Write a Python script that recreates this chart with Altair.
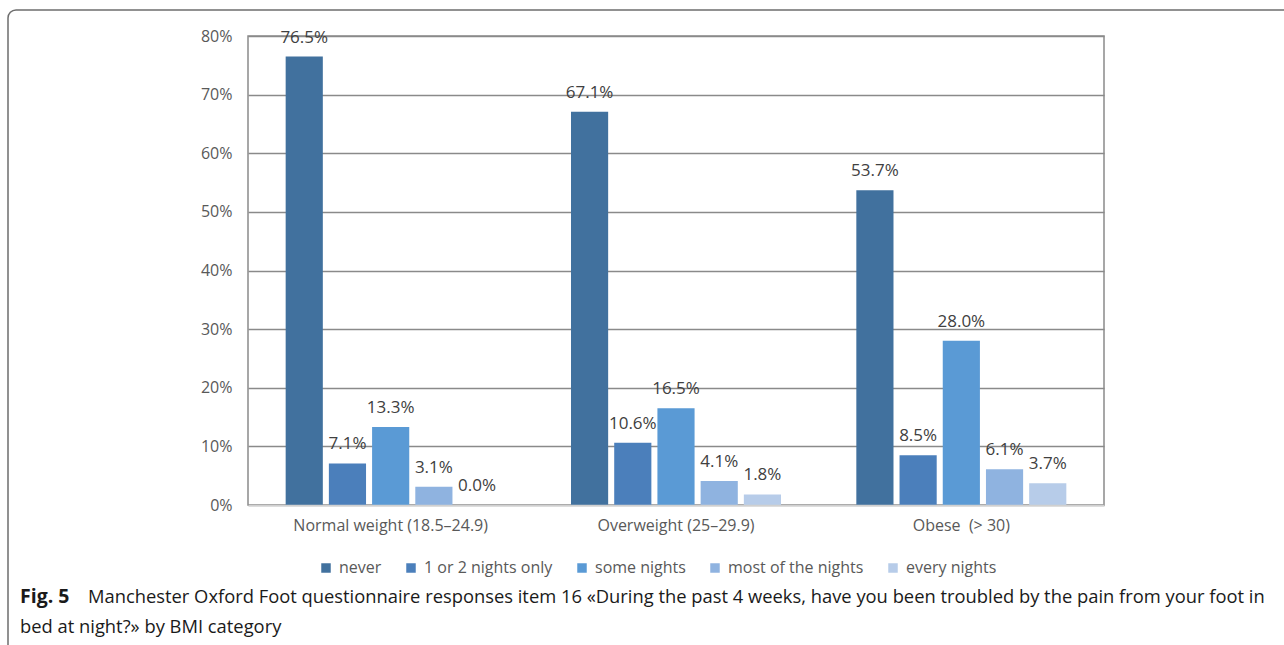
import altair as alt
import pandas as pd

# BMI groups and night-pain response categories
groups = ["Normal weight (18.5–24.9)", "Overweight (25–29.9)", "Obese \u00a0(> 30)"]
responses = ["never", "1 or 2 nights only", "some nights", "most of the nights", "every nights"]

# Percentage of respondents per response, one list per BMI group
normal_pct = [76.5, 7.1, 13.3, 3.1, 0.0]
overweight_pct = [67.1, 10.6, 16.5, 4.1, 1.8]
obese_pct = [53.7, 8.5, 28.0, 6.1, 3.7]

colors = ["#41719E", "#4B7FBB", "#5A9AD5", "#8FB3E0", "#B7CCE9"]

rows = []
for g, vals in zip(groups, [normal_pct, overweight_pct, obese_pct]):
    for r, v in zip(responses, vals):
        rows.append({"group": g, "response": r, "pct": v})
df = pd.DataFrame(rows)

FONT = "Open Sans"
GREY = "#595959"

x_enc = alt.X(
    "group:N",
    sort=groups,
    scale=alt.Scale(paddingInner=0.264, paddingOuter=0.132),
    axis=alt.Axis(
        title=None,
        labelAngle=0,
        labelFont=FONT,
        labelFontSize=16,
        labelColor=GREY,
        labelPadding=12,
        labelLimit=0,
        ticks=False,
        domain=True,
        domainColor="#d0d0d0",
        domainWidth=1.5,
        zindex=1,
    ),
)
xoff_enc = alt.XOffset("response:N", sort=responses, scale=alt.Scale(paddingInner=0.14, paddingOuter=0))
y_enc = alt.Y(
    "pct:Q",
    scale=alt.Scale(domain=[0, 80], nice=False),
    axis=alt.Axis(
        title=None,
        values=[0, 10, 20, 30, 40, 50, 60, 70, 80],
        labelExpr="datum.value + '%'",
        labelFont=FONT,
        labelFontSize=16,
        labelColor=GREY,
        labelPadding=16,
        ticks=False,
        domain=False,
        grid=True,
        gridColor="#8a8a8a",
        gridWidth=1.5,
    ),
)

base = alt.Chart(df)

bars = base.mark_bar().encode(
    x=x_enc,
    xOffset=xoff_enc,
    y=y_enc,
    color=alt.Color(
        "response:N",
        sort=responses,
        scale=alt.Scale(domain=responses, range=colors),
        legend=alt.Legend(
            title=None,
            orient="none",
            direction="horizontal",
            legendX=70,
            legendY=524,
            symbolType="square",
            symbolSize=90,
            symbolStrokeWidth=0,
            labelFont=FONT,
            labelFontSize=16,
            labelColor=GREY,
            columnPadding=21,
            labelOffset=5,
        ),
    ),
)

labels = base.mark_text(
    font=FONT, fontSize=17, color="#404040", baseline="middle", dy=-19
).transform_calculate(
    label="format(datum.pct, '.1f') + '%'"
).encode(
    x=alt.X("group:N", sort=groups),
    xOffset=alt.XOffset("response:N", sort=responses),
    y=alt.Y("pct:Q"),
    text="label:N",
)

# Figure frame around plot, legend and caption
frame = alt.Chart(pd.DataFrame({"k": [0]})).mark_rect(
    fill=None, stroke="#6e6e6e", strokeWidth=1.5, cornerRadius=8, clip=False
).encode(
    x=alt.value(-240), x2=alt.value(1080), y=alt.value(-26), y2=alt.value(700)
)

caption_bold = alt.Chart(pd.DataFrame({"t": ["Fig. 5"]})).mark_text(
    font=FONT, fontSize=19.5, fontWeight="bold", color="#1a1a1a", align="left", baseline="middle"
).encode(x=alt.value(-228), y=alt.value(561), text="t:N")

caption_lines = alt.Chart(
    pd.DataFrame(
        {
            "t": [
                "Manchester Oxford Foot questionnaire responses item 16 «During the past 4 weeks, have you been troubled by the pain from your foot in",
                "bed at night?» by BMI category",
            ],
            "x": [-160, -228],
            "y": [561, 591],
        }
    )
).mark_text(font=FONT, fontSize=18.35, color="#1a1a1a", align="left", baseline="middle").encode(
    x=alt.X("x:Q", scale=None), y=alt.Y("y:Q", scale=None), text="t:N"
)

chart = (
    alt.layer(frame, bars, labels, caption_bold, caption_lines)
    .properties(
        width=856,
        height=469,
        autosize=alt.AutoSizeParams(type="none"),
        padding={"left": 248, "top": 36, "right": 180, "bottom": 140},
        background="white",
    )
    .configure_view(stroke="#8a8a8a", strokeWidth=1.5)
)

chart.save("out.html", embed_options={"renderer": "svg", "actions": False})
